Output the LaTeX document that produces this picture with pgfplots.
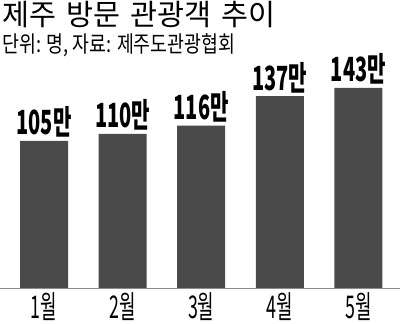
\documentclass[border=0pt]{standalone}
\usepackage{pgfplots}
\pgfplotsset{compat=1.18}
\usepackage{fontspec}
\setmainfont{Noto Sans CJK KR}
\definecolor{barcol}{RGB}{74,74,74}
\definecolor{axcol}{RGB}{140,140,140}
\newcommand\xl[1]{\scalebox{0.57}[1]{#1}}
\begin{document}
\begin{tikzpicture}[x=0.75pt,y=0.75pt]
\path[use as bounding box] (0,0) rectangle (400,324);
\node[anchor=base west, inner sep=0, font=\fontsize{22}{22}\selectfont] at (2,298) {제주\hspace{0.35em}방문\hspace{0.35em}관광객\hspace{0.35em}추이};
\node[anchor=base west, inner sep=0, font=\fontsize{17}{17}\selectfont] at (2,271) {\scalebox{0.81}[1]{단위: 명, 자료: 제주도관광협회}};
\begin{axis}[
  at={(0pt,27pt)}, anchor=south west,
  scale only axis, width=300pt, height=210pt,
  xmin=0.44, xmax=5.53, ymin=0, ymax=200,
  axis x line*=bottom, axis y line=none,
  x axis line style={-, draw=axcol, line width=0.6pt},
  xtick={1,2,3,4,5},
  xticklabels={\xl{1월},\xl{2월},\xl{3월},\xl{4월},\xl{5월}},
  major tick length=0pt,
  ytick=\empty,
  xticklabel style={anchor=base, inner sep=0pt, yshift=-23pt, font=\fontsize{23.5}{23.5}\selectfont},
  /pgf/number format/assume math mode=true,
  clip=false,
  ybar, bar width=36pt,
  nodes near coords={\scalebox{0.6}[1]{\pgfmathprintnumber{\pgfplotspointmeta}만}},
  nodes near coords style={anchor=base, inner sep=0pt, yshift=4.5pt, font=\bfseries\fontsize{25}{25}\selectfont},
]
\addplot[fill=barcol, draw=none] coordinates {(1,105) (2,110) (3,116) (4,137) (5,143)};
\end{axis}
\end{tikzpicture}
\end{document}
